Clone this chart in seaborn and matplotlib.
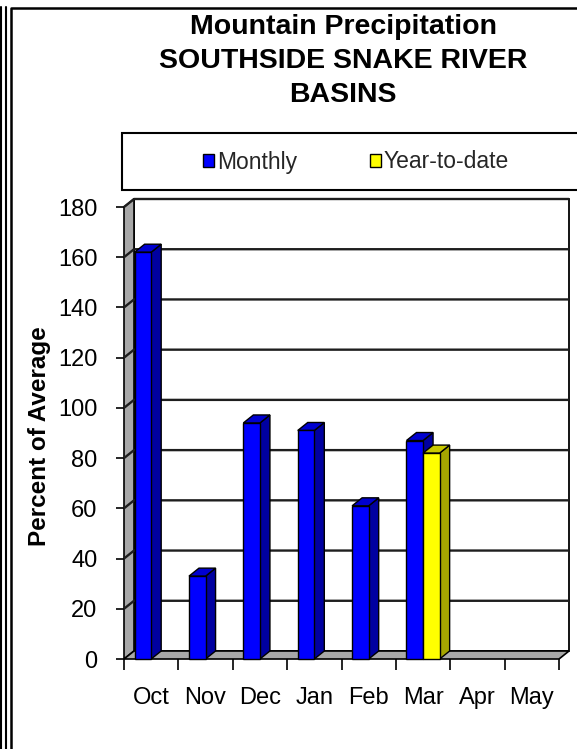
import numpy as np
import pandas as pd
import matplotlib
matplotlib.use("Agg")
import matplotlib.pyplot as plt
import seaborn as sns
from matplotlib.patches import Polygon, Rectangle, Patch
from matplotlib.lines import Line2D

# ---- data -------------------------------------------------------------
months = ["Oct", "Nov", "Dec", "Jan", "Feb", "Mar", "Apr", "May"]
monthly = [162, 33, 94, 91, 61, 87, None, None]
year_to_date = [None, None, None, None, None, 82, None, None]
series_names = ["Monthly", "Year-to-date"]
y_ticks = [0, 20, 40, 60, 80, 100, 120, 140, 160, 180]
title_lines = ["Mountain Precipitation", "SOUTHSIDE SNAKE RIVER", "BASINS"]
y_label = "Percent of Average"

# ---- styling ------------------------------------------------------------
W, H, DPI = 577, 749, 100
sns.set_theme(style="white")
plt.rcParams["font.family"] = ["Liberation Sans", "DejaVu Sans"]

front = {"Monthly": "#0000FF", "Year-to-date": "#FFFF00"}
side = {"Monthly": "#0000A0", "Year-to-date": "#A6A600"}
top = {"Monthly": "#0000D0", "Year-to-date": "#C8C800"}
wall_gray = "#A8A8A8"
grid_col = "#1E1E1E"


def fx(px):
    return px / W


def fy(py):
    return 1 - py / H


fig = plt.figure(figsize=(W / DPI, H / DPI), dpi=DPI)
fig.patch.set_facecolor("white")

# front plane of the 3-D plot box
ax = fig.add_axes([fx(124), fy(659), fx(559) - fx(124), fy(207) - fy(659)])
ax.set_facecolor("none")

rows = []
for m, v in zip(months, monthly):
    if v is not None:
        rows.append((m, "Monthly", v))
for m, v in zip(months, year_to_date):
    if v is not None:
        rows.append((m, "Year-to-date", v))
df = pd.DataFrame(rows, columns=["month", "series", "pct"])

sns.barplot(data=df, x="month", y="pct", hue="series", order=months,
            hue_order=series_names, palette=front, width=0.61,
            edgecolor="black", linewidth=1.0, saturation=1, errorbar=None,
            dodge=True, legend=False, ax=ax)
bars = sorted([p for p in ax.patches if isinstance(p, Rectangle)],
              key=lambda p: p.get_x())

n = len(months)
x0, x1 = -0.5, n - 0.5
y0, y1 = y_ticks[0], y_ticks[-1]
ax.set_xlim(x0, x1)
ax.set_ylim(y0, y1)

# depth of the box: 10 px right, 8 px up, expressed in data units
origin = ax.transData.transform((0, 0))
dd = ax.transData.inverted().transform(origin + np.array([10.0, 8.0]))
dx, dy = dd[0], dd[1] - 0

# back wall
ax.add_patch(Rectangle((x0 + dx, y0 + dy), x1 - x0, y1 - y0, facecolor="white",
                       edgecolor="black", lw=1.3, zorder=0.5, clip_on=False))
# left side wall
ax.add_patch(Polygon([(x0, y0), (x0, y1), (x0 + dx, y1 + dy), (x0 + dx, y0 + dy)],
                     closed=True, facecolor=wall_gray, edgecolor="black",
                     lw=1.2, zorder=0.6, clip_on=False))
# gridlines across side wall and back wall
for yv in y_ticks[1:]:
    ax.plot([x0, x0 + dx, x1 + dx], [yv, yv + dy, yv + dy], color=grid_col,
            lw=1.7, zorder=0.8, clip_on=False, solid_capstyle="butt")
# floor
ax.add_patch(Polygon([(x0, y0), (x1, y0), (x1 + dx, y0 + dy), (x0 + dx, y0 + dy)],
                     closed=True, facecolor=wall_gray, edgecolor="black",
                     lw=1.2, zorder=0.9, clip_on=False))

# side and top faces of each bar
for i, b in enumerate(bars):
    bx, bw, bh = b.get_x(), b.get_width(), b.get_height()
    fc = b.get_facecolor()
    key = "Year-to-date" if fc[2] < 0.5 else "Monthly"
    z = 3 + 2 * i
    ax.add_patch(Polygon([(bx + bw, 0), (bx + bw, bh), (bx + bw + dx, bh + dy),
                          (bx + bw + dx, dy)], closed=True, facecolor=side[key],
                         edgecolor="black", lw=1.0, zorder=z, clip_on=False))
    ax.add_patch(Polygon([(bx, bh), (bx + bw, bh), (bx + bw + dx, bh + dy),
                          (bx + dx, bh + dy)], closed=True, facecolor=top[key],
                         edgecolor="black", lw=1.0, zorder=z, clip_on=False))
    b.set_zorder(z + 1)
    b.set_clip_on(False)

for s in ax.spines.values():
    s.set_visible(False)

# axes ticks and labels
ax.set_yticks(y_ticks)
ax.set_yticklabels([str(t) for t in y_ticks])
ax.tick_params(axis="y", direction="out", length=6, width=1.2, color="black",
               pad=13, labelsize=17, labelcolor="black", left=True)
ax.set_xticks(range(n))
ax.set_xticklabels(months)
ax.set_xticks(np.arange(x0, x1 + 0.01, 1.0), minor=True)
ax.tick_params(axis="x", which="major", length=0, pad=20.5, labelsize=17,
               labelcolor="black")
ax.tick_params(axis="x", which="minor", direction="out", length=8, width=1.2,
               color="black", bottom=True)
ax.set_xlabel("")
ax.set_ylabel(y_label, fontsize=17.5, fontweight="bold", color="black")
ax.yaxis.set_label_coords(fx(40), fy(436), transform=fig.transFigure)
ax.yaxis.label.set_va("center")

# chart title
for line, ypx in zip(title_lines, [27.5, 61.5, 94.5]):
    fig.text(fx(343), fy(ypx), line, ha="center", va="center",
             fontsize=20.5, fontweight="bold", color="black")

# legend box and entries
fig.add_artist(Rectangle((fx(122), fy(190)), fx(640) - fx(122), fy(133) - fy(190),
                         transform=fig.transFigure, facecolor="white",
                         edgecolor="black", lw=1.5, zorder=1))
handles = [Patch(facecolor=front[s], edgecolor="black", lw=1.0, label=s)
           for s in series_names]
fig.legend(handles=handles, loc="center", bbox_to_anchor=(fx(356), fy(162)),
           ncol=2, frameon=False, fontsize=16.5, handlelength=0.48,
           handleheight=0.48, handletextpad=0.1, columnspacing=3.2,
           borderpad=0)

# outer frame lines
for xp in (1.0, 6.0):
    fig.add_artist(Line2D([fx(xp), fx(xp)], [fy(7), 0], transform=fig.transFigure,
                          color="black", lw=1.5))
fig.add_artist(Line2D([fx(10.5), fx(10.5), 1.0], [0, fy(7.5), fy(7.5)],
                      transform=fig.transFigure, color="black", lw=1.8))

fig.savefig("out.png", dpi=DPI, facecolor="white")
